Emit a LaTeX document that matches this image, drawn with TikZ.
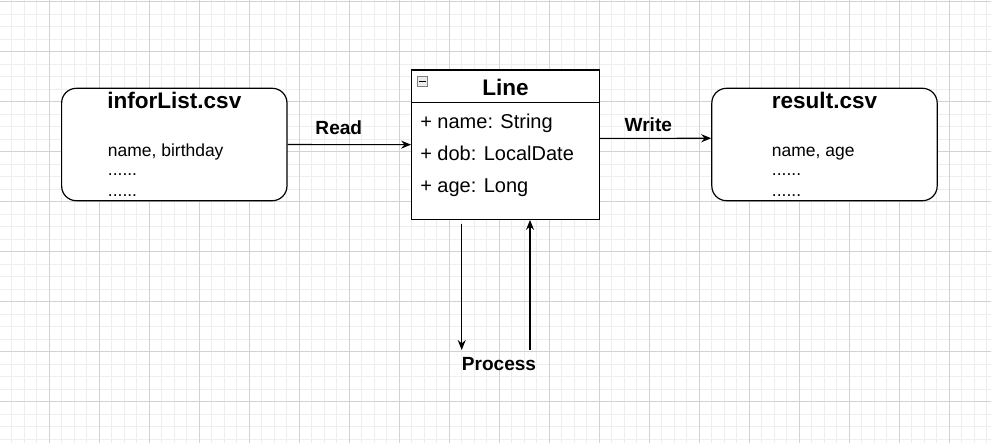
\documentclass[tikz,border=0pt]{standalone}
\usepackage{fontspec}
\setmainfont{Liberation Sans}
\usetikzlibrary{arrows.meta}

\tikzset{
  minorgrid/.style={gray!13,line width=0.75pt},
  majorgrid/.style={gray!35,line width=0.75pt},
  csvbox/.style={draw,line width=0.9pt,rounded corners=11pt,fill=white,minimum width=169pt,minimum height=84.3pt},
  classbox/.style={draw,line width=0.9pt,fill=white,minimum width=140.7pt,minimum height=112pt},
  title/.style={font=\bfseries\fontsize{16.9}{18}\selectfont,anchor=base,inner sep=0pt},
  field/.style={font=\fontsize{15}{17}\selectfont,anchor=base west,inner sep=0pt},
  body/.style={font=\fontsize{13.1}{15}\selectfont,anchor=base west,inner sep=0pt},
  flow/.style={font=\bfseries\fontsize{14.3}{16}\selectfont,anchor=base,inner sep=0pt},
  link/.style={line width=0.8pt,-{Stealth[length=7.5pt,width=6pt,inset=2.5pt]}},
}

\providecommand{\GridLines}{
\fill[white] (0,0) rectangle (991,443);
\foreach \k in {0,...,80}{
  \pgfmathsetmacro\gx{-0.7+12.5*\k}
  \draw[minorgrid] (\gx,0) -- (\gx,443);
}
\foreach \k in {0,...,35}{
  \pgfmathsetmacro\gy{1.7+12.5*\k}
  \draw[minorgrid] (0,\gy) -- (991,\gy);
}
\foreach \k in {0,...,20}{
  \pgfmathsetmacro\gx{-0.7+50*\k}
  \draw[majorgrid] (\gx,0) -- (\gx,443);
}
\foreach \k in {0,...,8}{
  \pgfmathsetmacro\gy{1.7+50*\k}
  \draw[majorgrid] (0,\gy) -- (991,\gy);
}
}

\begin{document}
\begin{tikzpicture}[x=0.75pt,y=-0.75pt]
\useasboundingbox (0,0) rectangle (991,443);
\GridLines

% input file
\node[csvbox] (infor) at (174.3,144.5) {};
\node[title] (inforTitle) at (174.3,108.3) {inforList.csv};
\node[body] (inforCols) at (107.7,156) {name, birthday};
\node[body] (inforRowA) at (107.7,175.5) {......};
\node[body] (inforRowB) at (107.7,196.7) {......};

% class
\node[classbox] (cls) at (505.5,144.65) {};
\draw[line width=0.9pt] (411.7,102.3) -- (599.3,102.3);
\node[draw=gray,fill=gray!15,minimum size=7.5pt,inner sep=0pt] (fold) at (422.5,81.7) {};
\draw[line width=1pt] ([xshift=-2.3pt]fold.center) -- ([xshift=2.3pt]fold.center);
\node[title] (clsTitle) at (505.5,95) {Line};
\node[field] (fName) at (420,128.3) {+ name: String};
\node[field] (fDob) at (420,160.5) {+ dob: LocalDate};
\node[field] (fAge) at (420,192.7) {+ age: Long};

% output file
\node[csvbox] (result) at (824.5,144.5) {};
\node[title] (resultTitle) at (824.5,108.3) {result.csv};
\node[body] (resultCols) at (771.7,156) {name, age};
\node[body] (resultRowA) at (771.7,175.5) {......};
\node[body] (resultRowB) at (771.7,196.7) {......};

% flows
\draw[link] (infor.east) -- (cls.west);
\node[flow] (read) at (338.8,134.3) {Read};
\draw[link] ([yshift=4.7pt]cls.east) -- ([yshift=4.7pt]result.west);
\node[flow] (write) at (648.3,131.7) {Write};
\node[flow] (proc) at (499,370) {Process};
\coordinate (pdown) at (461.7,350);
\coordinate (pup) at (530,350);
\draw[link] ([xshift=-32.85pt,yshift=-3pt]cls.south) -- (pdown);
\draw[link] (pup) -- (cls.south -| pup);
\end{tikzpicture}
\end{document}
